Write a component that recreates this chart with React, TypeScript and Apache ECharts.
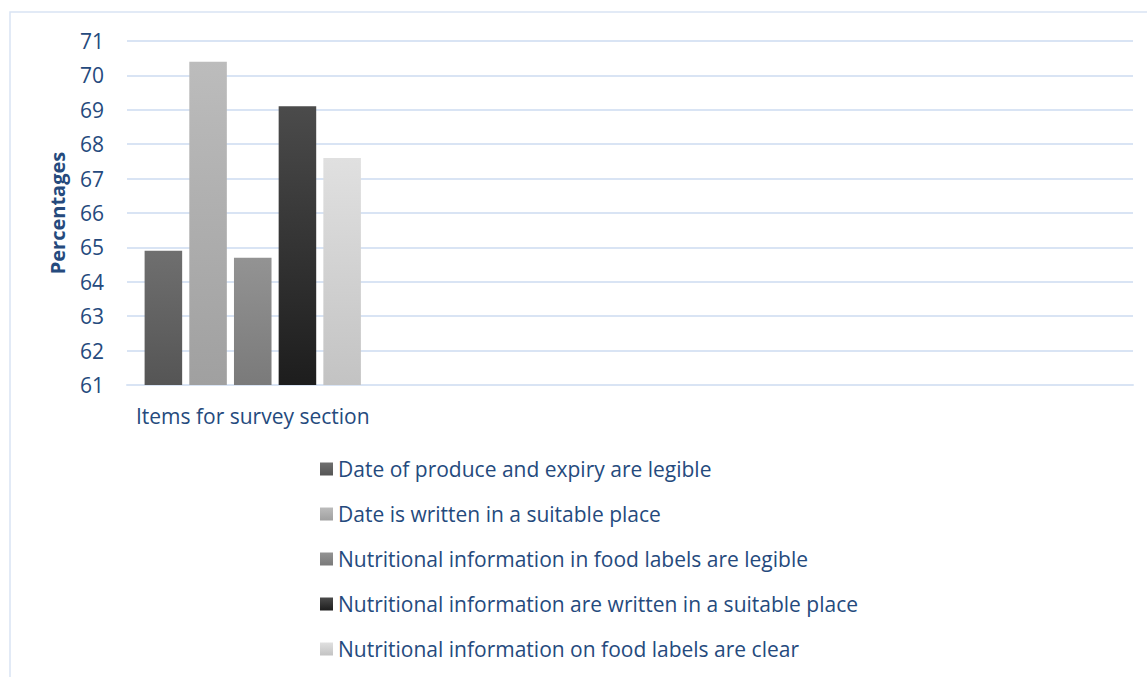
import React, { useEffect, useRef } from "react";
import * as echarts from "echarts";

const categories = ["Items for survey section", "", "", ""];
const seriesNames = [
  "Date of produce and expiry are legible",
  "Date is written in a suitable place",
  "Nutritional information in food labels are legible",
  "Nutritional information are written in a suitable place",
  "Nutritional information on food labels are clear",
];
const seriesValues = [64.9, 70.4, 64.7, 69.1, 67.6];
const gradientTop = ["#6f6f6f", "#bcbcbc", "#939393", "#4b4b4b", "#e0e0e0"];
const gradientBottom = ["#555555", "#a0a0a0", "#7a7a7a", "#1d1d1d", "#c3c3c3"];

const FONT = "Open Sans";
const TEXT_COLOR = "#254a7d";
const GRID_COLOR = "#d9e4f4";

export default function App() {
  const ref = useRef<HTMLDivElement>(null);
  useEffect(() => {
    if (!ref.current) return;
    const chart = echarts.init(ref.current, undefined, { renderer: "svg" });
    const series = seriesNames.map((name, i) => ({
      name,
      type: "bar",
      data: [seriesValues[i]],
      barGap: "19%",
      barCategoryGap: "14%",
      itemStyle: {
        color: new echarts.graphic.LinearGradient(0, 0, 0, 1, [
          { offset: 0, color: gradientTop[i] },
          { offset: 1, color: gradientBottom[i] },
        ]),
      },
    }));
    chart.setOption({
      animation: false,
      backgroundColor: "#ffffff",
      textStyle: { fontFamily: FONT },
      graphic: [
        {
          type: "rect",
          shape: { x: 10, y: 12, width: 1160, height: 700 },
          style: { fill: "none", stroke: GRID_COLOR, lineWidth: 1.5 },
          silent: true,
        },
      ],
      grid: { left: 127, right: 14, top: 41, bottom: 292, containLabel: false },
      xAxis: {
        type: "category",
        data: categories,
        axisLine: { lineStyle: { color: GRID_COLOR, width: 2 } },
        axisTick: { show: false },
        axisLabel: { color: TEXT_COLOR, fontSize: 21, fontFamily: FONT, margin: 20 },
      },
      yAxis: {
        type: "value",
        min: 61,
        max: 71,
        interval: 1,
        name: "Percentages",
        nameLocation: "middle",
        nameRotate: 90,
        nameGap: 60,
        nameTextStyle: { color: TEXT_COLOR, fontSize: 20, fontWeight: "bold", fontFamily: FONT },
        axisLine: { show: false },
        axisTick: { show: false },
        axisLabel: { color: TEXT_COLOR, fontSize: 21, fontFamily: FONT, margin: 23 },
        splitLine: { lineStyle: { color: GRID_COLOR, width: 2 } },
      },
      legend: {
        orient: "vertical",
        left: 320,
        top: 458,
        padding: 0,
        itemWidth: 13,
        itemHeight: 13,
        itemGap: 23,
        icon: "rect",
        textStyle: { color: TEXT_COLOR, fontSize: 21, fontFamily: FONT, lineHeight: 22 },
        data: seriesNames,
      },
      series,
    });
    return () => chart.dispose();
  }, []);
  return (
    <div
      ref={ref}
      style={{ position: "fixed", left: 0, top: 0, width: 1147, height: 677 }}
    />
  );
}
